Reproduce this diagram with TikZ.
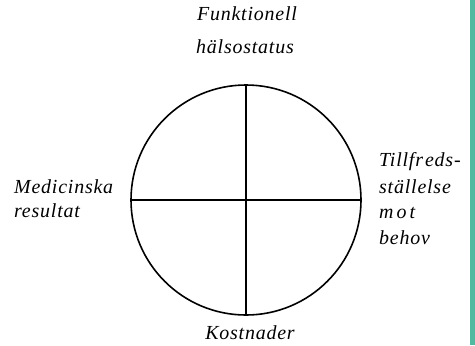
\documentclass[tikz,border=0pt]{standalone}
\usepackage{fontspec}
\setmainfont{Liberation Serif}[LetterSpace=4]
\definecolor{barteal}{RGB}{80,185,160}
\tikzset{
  lbl/.style={inner sep=0pt, font=\fontsize{20}{24}\selectfont\itshape},
  wheel/.style={draw, circle, line width=1.6bp, minimum size=230bp, inner sep=0pt},
  spoke/.style={line width=1.6bp}
}
\begin{document}
\begin{tikzpicture}[x=1bp,y=-1bp]
\useasboundingbox (0,0) rectangle (475,345);
\fill[barteal] (470,0) rectangle (475,345);
\node[wheel] (c) at (246,200) {};
\draw[spoke] (c.west) -- (c.east);
\draw[spoke] (c.north) -- (c.south);
% top
\node[lbl, anchor=base] (funk) at (247,20) {Funktionell};
\node[lbl, anchor=base] (hals) at (245,53) {hälsostatus};
% left
\node[lbl, anchor=base west] (med) at (14,193) {Medicinska};
\node[lbl, anchor=base west] (res) at (14,217) {resultat};
% right
\node[lbl, anchor=base west] (till) at (379,166) {Tillfr\hspace{2bp}eds-};
\node[lbl, anchor=base west] (stal) at (379,193) {ställelse};
\node[lbl, anchor=base west] (mot) at (379,218) {m\hspace{3bp}o\hspace{3bp}t};
\node[lbl, anchor=base west] (beh) at (379,244) {behov};
% bottom
\node[lbl, anchor=base] (kost) at (250,339) {Kostnader};
\end{tikzpicture}
\end{document}
